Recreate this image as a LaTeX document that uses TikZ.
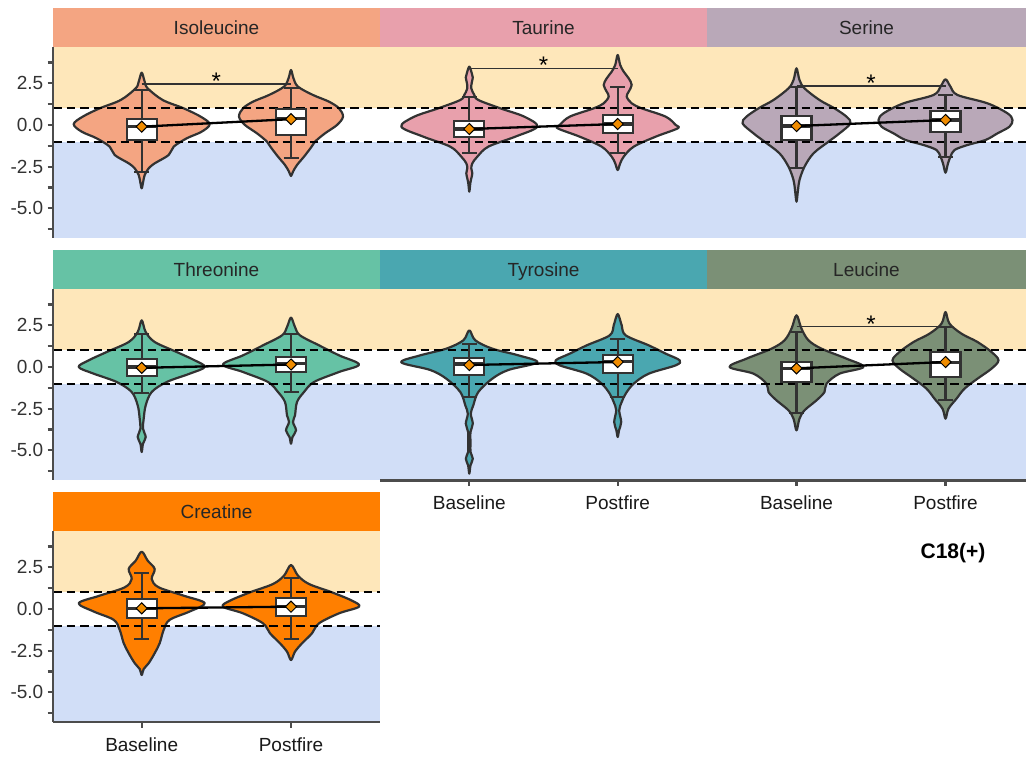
\documentclass[tikz,border=0pt]{standalone}
\usepackage{fontspec}
\setmainfont{Liberation Sans}
\usetikzlibrary{shapes.geometric}
\definecolor{yel}{RGB}{254,231,186}
\definecolor{blu}{RGB}{209,222,247}
\definecolor{isoc}{RGB}{244,165,130}
\definecolor{tauc}{RGB}{232,160,172}
\definecolor{serc}{RGB}{185,168,184}
\definecolor{thrc}{RGB}{102,194,165}
\definecolor{tyrc}{RGB}{74,167,176}
\definecolor{leuc}{RGB}{123,144,118}
\definecolor{crec}{RGB}{255,127,0}
\definecolor{meanc}{RGB}{240,140,0}
\definecolor{outl}{RGB}{50,50,50}
\tikzset{
 vshape/.style={draw=outl, line width=2.2pt, line join=round},
 bxline/.style={draw=outl, line width=2.1pt},
 medline/.style={draw=outl, line width=3.6pt},
 refline/.style={draw=black, line width=2.3pt, dash pattern=on 8.5pt off 5pt},
 meanline/.style={draw=black, line width=2.3pt},
 meanpt/.style={diamond, draw=black, fill=meanc, line width=1pt, minimum width=11.5pt, minimum height=11.5pt, inner sep=0pt},
 sigline/.style={draw=outl, line width=1.3pt},
 sigstar/.style={anchor=base, font=\fontsize{24}{26}\selectfont, inner sep=0pt},
 striptext/.style={anchor=base, text=black!85, inner sep=0pt},
 ytl/.style={anchor=east, text=black!80, inner sep=0pt},
 xtl/.style={anchor=base, text=black!90, inner sep=0pt},
 axisline/.style={draw=black!70, line width=2.1pt},
}
% violin: cx, ytop, ybot, colour, list of y/halfwidth (top to bottom)
\newcommand\violin[5]{%
  \gdef\vR{}\gdef\vL{}%
  \foreach \yy/\ww in {#5}{\xdef\vR{\vR(\ww,\yy)}\xdef\vL{(-\ww,\yy)\vL}}%
  \begin{scope}[shift={(#1,0)}]
  \edef\tmpv{\noexpand\draw[vshape,fill=#4] plot[smooth cycle,tension=0.55] coordinates {(0,#2)\vR(0,#3)\vL};}%
  \tmpv
  \end{scope}}
% box: cx, q1, q3, median, whisker low, whisker high
\newcommand\bxp[6]{%
  \draw[bxline] (#1,#5) -- (#1,#2) (#1,#3) -- (#1,#6);
  \draw[bxline] (#1-7.5,#5) -- (#1+7.5,#5) (#1-7.5,#6) -- (#1+7.5,#6);
  \draw[bxline,fill=white] (#1-15,#2) rectangle (#1+15,#3);
  \draw[medline] (#1-15,#4) -- (#1+15,#4);}
% panel: x0, x1, Z, colour, label, name
\newcommand\panel[6]{%
  \fill[#4] (#1,#3-117) rectangle (#2,#3-78);
  \node[striptext] (#6) at ({(#1+#2)/2},#3-90.8) {#5};
  \begin{scope}[shift={(0,#3)},y={(0pt,16.667pt)}]
   \fill[yel] (#1,4.68) rectangle (#2,1);
   \fill[blu] (#1,-1) rectangle (#2,-6.78);
  \end{scope}}
\newcommand\refl[2]{\draw[refline] (#1,1) -- (#2,1); \draw[refline] (#1,-1) -- (#2,-1);}
\newcommand\yaxis[2]{% Z, row id
  \draw[axisline] (53,#1-78) -- (53,#1+113);
  \begin{scope}[shift={(0,#1)},y={(0pt,16.667pt)}]
  \foreach \t in {3.75,2.5,1.25,0,-1.25,-2.5,-3.75,-5,-6.25} \draw[axisline] (47.5,\t) -- (53,\t);
  \foreach \t/\l [count=\i] in {2.5/2.5,0/0.0,-2.5/-2.5,-5/-5.0} \node[ytl] (y#2\i) at (43.5,\t) {\l};
  \end{scope}}
\begin{document}
\begin{tikzpicture}[x=1pt,y=-1pt,font=\fontsize{19}{23}\selectfont]
\useasboundingbox (0,0) rectangle (1026,760);
\fill[white] (0,0) rectangle (1026,760);

% ---------------- ROW 1 (Z=125)
\panel{53}{380}{125}{isoc}{Isoleucine}{sIso}
\panel{380}{707}{125}{tauc}{Taurine}{sTau}
\panel{707}{1026}{125}{serc}{Serine}{sSer}
\begin{scope}[shift={(0,125)},y={(0pt,16.667pt)}]
 % Isoleucine
 \violin{141.7}{3.14}{-3.8}{isoc}{2.6/3,2.2/6,1.5/21,1.0/42,0.5/59,0.05/68,-0.4/60,-0.8/45,-1.3/32,-1.8/27,-2.3/13,-2.6/7,-3.0/3,-3.4/1.5}
 \violin{291}{3.3}{-3.06}{isoc}{2.8/2.5,2.3/7,1.8/22,1.4/38,1.0/48,0.5/52,0.0/46,-0.5/34,-1.0/24,-1.35/20,-1.9/13,-2.4/6,-2.8/2}
 \refl{53}{380}
 \bxp{141.7}{-0.9}{0.36}{-0.1}{-2.8}{2.1}
 \bxp{291}{-0.6}{0.94}{0.4}{-2.0}{2.2}
 \coordinate (isoB) at (141.7,-0.1); \coordinate (isoP) at (291,0.35);
 \draw[meanline] (isoB) -- (isoP);
 \node[meanpt] (isoBm) at (isoB) {}; \node[meanpt] (isoPm) at (isoP) {};
 \coordinate (isoS1) at (141.7,2.46); \coordinate (isoS2) at (291,2.46);
 \draw[sigline] (isoS1) -- (isoS2);
 \node[sigstar,yshift=-5.5pt] (isoStar) at (216.35,2.46) {*};
 % Taurine
 \violin{469.3}{3.5}{-4.0}{tauc}{3.1/2.5,2.85/3.5,2.55/2.5,2.2/2,1.8/5,1.5/9,1.0/31,0.5/55,-0.1/68,-0.7/46,-1.3/19,-1.9/8,-2.3/3,-2.6/2,-2.9/3,-3.2/2,-3.5/1}
 \violin{617.7}{4.2}{-2.7}{tauc}{3.6/2.5,3.2/6,2.8/11,2.4/14,2.0/11,1.7/9,1.3/14,1.0/24,0.5/48,0.0/58,-0.2/60,-0.7/38,-1.3/16,-1.9/6,-2.3/2.5}
 \refl{380}{707}
 \bxp{469.3}{-0.74}{0.26}{-0.24}{-1.7}{1.7}
 \bxp{617.7}{-0.5}{0.6}{0.06}{-1.7}{2.3}
 \coordinate (tauB) at (469.3,-0.24); \coordinate (tauP) at (617.7,0.06);
 \draw[meanline] (tauB) -- (tauP);
 \node[meanpt] (tauBm) at (tauB) {}; \node[meanpt] (tauPm) at (tauP) {};
 \coordinate (tauS1) at (469.3,3.4); \coordinate (tauS2) at (617.7,3.4);
 \draw[sigline] (tauS1) -- (tauS2);
 \node[sigstar,yshift=-5.5pt] (tauStar) at (543.5,3.4) {*};
 % Serine
 \violin{796.5}{3.4}{-4.6}{serc}{2.7/3,2.2/8,1.5/23,1.0/38,0.5/50,0.1/54,-0.5/43,-1.0/32,-1.7/17,-2.5/8,-3.3/3,-3.9/1.5}
 \violin{945.5}{2.74}{-2.86}{serc}{2.3/5,1.8/12,1.3/42,0.7/62,0.3/67,-0.1/64,-0.5/52,-0.9/40,-1.2/22,-1.5/9,-1.9/5,-2.3/2.5}
 \refl{707}{1026}
 \bxp{796.5}{-0.9}{0.54}{-0.06}{-2.6}{2.3}
 \bxp{945.5}{-0.4}{0.84}{0.3}{-1.9}{1.8}
 \coordinate (serB) at (796.5,-0.06); \coordinate (serP) at (945.5,0.3);
 \draw[meanline] (serB) -- (serP);
 \node[meanpt] (serBm) at (serB) {}; \node[meanpt] (serPm) at (serP) {};
 \coordinate (serS1) at (796.5,2.34); \coordinate (serS2) at (945.5,2.34);
 \draw[sigline] (serS1) -- (serS2);
 \node[sigstar,yshift=-5.5pt] (serStar) at (871,2.34) {*};
\end{scope}
\yaxis{125}{a}

% ---------------- ROW 2 (Z=367)
\panel{53}{380}{367}{thrc}{Threonine}{sThr}
\panel{380}{707}{367}{tyrc}{Tyrosine}{sTyr}
\panel{707}{1026}{367}{leuc}{Leucine}{sLeu}
\begin{scope}[shift={(0,367)},y={(0pt,16.667pt)}]
 % Threonine
 \violin{141.7}{2.8}{-5.1}{thrc}{2.1/4,1.5/13,0.9/35,0.4/53,0.0/63,-0.4/48,-0.9/25,-1.5/10,-2.3/4,-3.1/2,-3.7/1.3,-4.2/4,-4.6/1.3}
 \violin{291}{2.96}{-4.6}{thrc}{2.4/4,1.9/9,1.3/28,0.7/48,0.15/68,-0.3/48,-0.9/23,-1.5/13,-2.1/6,-2.9/4,-3.3/2,-3.8/5,-4.2/1.5}
 \refl{53}{380}
 \bxp{141.7}{-0.54}{0.48}{0}{-1.54}{1.96}
 \bxp{291}{-0.28}{0.62}{0.22}{-1.48}{1.96}
 \coordinate (thrB) at (141.7,-0.05); \coordinate (thrP) at (291,0.15);
 \draw[meanline] (thrB) -- (thrP);
 \node[meanpt] (thrBm) at (thrB) {}; \node[meanpt] (thrPm) at (thrP) {};
 % Tyrosine
 \violin{469.3}{2.2}{-6.4}{tyrc}{1.6/6,1.1/23,0.7/49,0.28/68,-0.18/39,-0.7/23,-1.5/9,-2.3/4,-2.8/1.5,-3.4/3.5,-3.9/1.2,-4.6/1.2,-5.1/1.2,-5.5/3.5,-5.9/1.2}
 \violin{617.7}{3.18}{-4.2}{tyrc}{2.5/4,1.9/8,1.3/31,0.8/48,0.4/62,0.1/58,-0.4/31,-1.0/16,-1.6/8,-2.1/4,-2.6/1.5,-3.3/3.5,-3.8/1.3}
 \refl{380}{707}
 \bxp{469.3}{-0.48}{0.52}{0.18}{-1.78}{1.36}
 \bxp{617.7}{-0.34}{0.72}{0.32}{-1.78}{1.68}
 \coordinate (tyrB) at (469.3,0.12); \coordinate (tyrP) at (617.7,0.3);
 \draw[meanline] (tyrB) -- (tyrP);
 \node[meanpt] (tyrBm) at (tyrB) {}; \node[meanpt] (tyrPm) at (tyrP) {};
 % Leucine
 \violin{796.5}{3.1}{-3.8}{leuc}{2.3/5,1.6/12,1.1/25,0.5/50,0.0/67,-0.4/43,-1.0/30,-1.5/28,-2.0/20,-2.6/8,-3.1/3}
 \violin{945.5}{3.3}{-3.1}{leuc}{2.6/4,2.0/16,1.5/32,0.9/46,0.4/53,-0.1/46,-0.7/32,-1.3/19,-1.9/11,-2.5/3}
 \refl{707}{1026}
 \bxp{796.5}{-0.88}{0.32}{-0.08}{-2.78}{2.08}
 \bxp{945.5}{-0.58}{0.88}{0.28}{-1.98}{2.42}
 \coordinate (leuB) at (796.5,-0.08); \coordinate (leuP) at (945.5,0.3);
 \draw[meanline] (leuB) -- (leuP);
 \node[meanpt] (leuBm) at (leuB) {}; \node[meanpt] (leuPm) at (leuP) {};
 \coordinate (leuS1) at (796.5,2.42); \coordinate (leuS2) at (945.5,2.42);
 \draw[sigline] (leuS1) -- (leuS2);
 \node[sigstar,yshift=-5.5pt] (leuStar) at (871,2.42) {*};
\end{scope}
\yaxis{367}{b}
% x axis row 2
\draw[axisline] (380,480.5) -- (1026,480.5);
\foreach \x/\l [count=\i] in {469.3/Baseline,617.7/Postfire,796.5/Baseline,945.5/Postfire}{
  \draw[axisline] (\x,480.5) -- (\x,486);
  \node[xtl] (xb\i) at (\x,509) {\l};}

% ---------------- ROW 3 (Z=609)
\panel{53}{380}{609}{crec}{Creatine}{sCre}
\begin{scope}[shift={(0,609)},y={(0pt,16.667pt)}]
 \violin{141.7}{3.44}{-3.96}{crec}{2.9/6,2.4/13,1.8/10,1.3/17,0.8/42,0.35/63,-0.15/48,-0.65/28,-1.25/22,-2.05/18,-2.65/13,-3.25/7,-3.6/2}
 \violin{291}{2.64}{-3.06}{crec}{2.0/7,1.5/18,1.0/41,0.5/61,0.14/68,-0.26/48,-0.86/28,-1.46/21,-2.06/11,-2.56/4}
 \refl{53}{380}
 \bxp{141.7}{-0.56}{0.58}{0.04}{-1.82}{2.14}
 \bxp{291}{-0.42}{0.64}{0.14}{-1.82}{1.84}
 \coordinate (creB) at (141.7,0.04); \coordinate (creP) at (291,0.14);
 \draw[meanline] (creB) -- (creP);
 \node[meanpt] (creBm) at (creB) {}; \node[meanpt] (crePm) at (creP) {};
\end{scope}
\yaxis{609}{c}
\draw[axisline] (53,722) -- (380,722);
\foreach \x/\l [count=\i] in {141.7/Baseline,291/Postfire}{
  \draw[axisline] (\x,722) -- (\x,727.5);
  \node[xtl] (xc\i) at (\x,751) {\l};}

\node[font=\bfseries\fontsize{21}{25}\selectfont] (c18) at (953,553) {C18(+)};
\end{tikzpicture}
\end{document}
